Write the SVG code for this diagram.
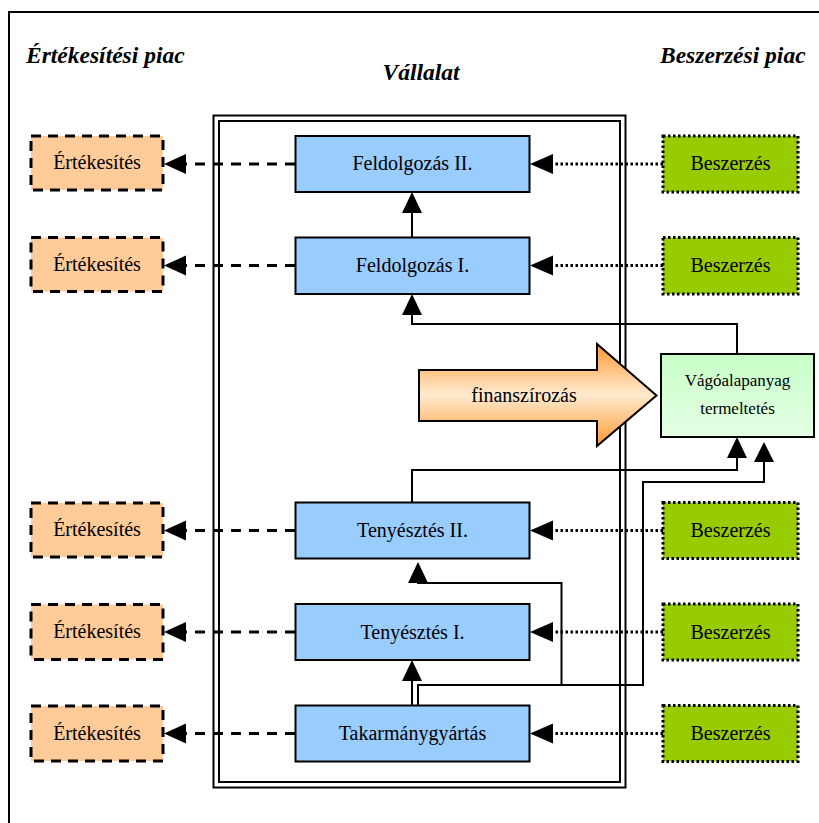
<svg xmlns="http://www.w3.org/2000/svg" width="819" height="823" viewBox="0 0 819 823">
<defs>
<linearGradient id="gFin" x1="0" y1="0" x2="0" y2="1">
<stop offset="0" stop-color="#ff9933"/>
<stop offset="0.5" stop-color="#ffebd0"/>
<stop offset="1" stop-color="#ff9933"/>
</linearGradient>
<linearGradient id="gVago" x1="0" y1="0" x2="0" y2="1">
<stop offset="0" stop-color="#c8ffc8"/>
<stop offset="1" stop-color="#e4ffe4"/>
</linearGradient>
</defs>
<style>
text{font-family:'Liberation Serif','Times New Roman',serif;fill:#000}
.title{font-weight:bold;font-style:italic;font-size:23.5px}
.lbl{font-size:20px;text-anchor:middle}
.small{font-size:17px}
.blue{fill:#99ccff;stroke:#000;stroke-width:2}
.orange{fill:#ffcc99;stroke:#000;stroke-width:3;stroke-dasharray:10 7}
.green{fill:#99cc00;stroke:#000;stroke-width:3;stroke-dasharray:2.5 2.5}
.dash{fill:none;stroke:#000;stroke-width:3;stroke-dasharray:10 8}
.dot{fill:none;stroke:#000;stroke-width:3;stroke-dasharray:2.5 2.5}
.ln{fill:none;stroke:#000;stroke-width:2}
.ah{fill:#000;stroke:none}
</style>
<rect x="0" y="0" width="819" height="823" fill="#fff"/>
<path d="M9,823 V12 H819" fill="none" stroke="#000" stroke-width="2"/>
<g id="titles">
<text class="title" x="26" y="63">Értékesítési piac</text>
<text class="title" x="421" y="80" text-anchor="middle">Vállalat</text>
<text class="title" x="660" y="63">Beszerzési piac</text>
</g>
<g id="vallalat-frame">
<rect x="213.5" y="115.5" width="412" height="672" fill="none" stroke="#000" stroke-width="2"/>
<rect x="219" y="121" width="401" height="661" fill="none" stroke="#000" stroke-width="2"/>
</g>
<g id="connectors">
<path class="dash" d="M295,164 H186"/>
<polygon class="ah" points="164,164 186,154 186,174"/>
<path class="dash" d="M295,265.5 H186"/>
<polygon class="ah" points="164,265.5 186,255.5 186,275.5"/>
<path class="dash" d="M295,530.5 H186"/>
<polygon class="ah" points="164,530.5 186,520.5 186,540.5"/>
<path class="dash" d="M295,632 H186"/>
<polygon class="ah" points="164,632 186,622 186,642"/>
<path class="dash" d="M295,733.5 H186"/>
<polygon class="ah" points="164,733.5 186,723.5 186,743.5"/>
<path class="dot" d="M663,164 H553"/>
<polygon class="ah" points="530,164 553,154 553,174"/>
<path class="dot" d="M663,265.5 H553"/>
<polygon class="ah" points="530,265.5 553,255.5 553,275.5"/>
<path class="dot" d="M663,530.5 H553"/>
<polygon class="ah" points="530,530.5 553,520.5 553,540.5"/>
<path class="dot" d="M663,632 H553"/>
<polygon class="ah" points="530,632 553,622 553,642"/>
<path class="dot" d="M663,733.5 H553"/>
<polygon class="ah" points="530,733.5 553,723.5 553,743.5"/>
<path class="ln" d="M412,237.5 V212"/>
<polygon class="ah" points="412,192 402,213 422,213"/>
<path class="ln" d="M737,354 V324 H412 V314"/>
<polygon class="ah" points="412,294 402,315 422,315"/>
<path class="ln" d="M412,502.5 V470 H737 V457"/>
<polygon class="ah" points="737,437 727,458 747,458"/>
<path class="ln" d="M418,705.5 V685 H643 V482 H764 V461"/>
<polygon class="ah" points="764,442 754,462 774,462"/>
<path class="ln" d="M561.5,685 V583 H418 V582"/>
<polygon class="ah" points="418,562 408,583 428,583"/>
<path class="ln" d="M412,705.5 V680"/>
<polygon class="ah" points="412,660 402,681 422,681"/>
</g>
<g id="ert1"><rect class="orange" x="31" y="136" width="132" height="54"/><text class="lbl" x="97" y="169">Értékesítés</text></g>
<g id="ert2"><rect class="orange" x="31" y="237.5" width="132" height="54"/><text class="lbl" x="97" y="270.5">Értékesítés</text></g>
<g id="ert3"><rect class="orange" x="31" y="503" width="132" height="54"/><text class="lbl" x="97" y="536">Értékesítés</text></g>
<g id="ert4"><rect class="orange" x="31" y="604.5" width="132" height="55"/><text class="lbl" x="97" y="638">Értékesítés</text></g>
<g id="ert5"><rect class="orange" x="31" y="706" width="132" height="55"/><text class="lbl" x="97" y="739.5">Értékesítés</text></g>
<g id="feld2"><rect class="blue" x="295.5" y="136" width="234" height="56"/><text class="lbl" x="412.5" y="170">Feldolgozás II.</text></g>
<g id="feld1"><rect class="blue" x="295.5" y="237.5" width="234" height="56.5"/><text class="lbl" x="412.5" y="272">Feldolgozás I.</text></g>
<g id="teny2"><rect class="blue" x="295.5" y="502.5" width="234" height="56"/><text class="lbl" x="412.5" y="537">Tenyésztés II.</text></g>
<g id="teny1"><rect class="blue" x="295.5" y="604" width="234" height="56"/><text class="lbl" x="412.5" y="638.5">Tenyésztés I.</text></g>
<g id="takarmany"><rect class="blue" x="295.5" y="705.5" width="234" height="56"/><text class="lbl" x="412.5" y="740">Takarmánygyártás</text></g>
<g id="besz1"><rect class="green" x="663" y="136" width="135" height="56"/><text class="lbl" x="730.5" y="170">Beszerzés</text></g>
<g id="besz2"><rect class="green" x="663" y="237.5" width="135" height="56.5"/><text class="lbl" x="730.5" y="272">Beszerzés</text></g>
<g id="besz3"><rect class="green" x="663" y="502.5" width="135" height="56"/><text class="lbl" x="730.5" y="537">Beszerzés</text></g>
<g id="besz4"><rect class="green" x="663" y="604" width="135" height="56"/><text class="lbl" x="730.5" y="638.5">Beszerzés</text></g>
<g id="besz5"><rect class="green" x="663" y="705.5" width="135" height="56"/><text class="lbl" x="730.5" y="740">Beszerzés</text></g>
<g id="finanszirozas">
<polygon points="419,370 597,370 597,344 656.5,395.5 597,446 597,421 419,421" fill="url(#gFin)" stroke="#000" stroke-width="2"/>
<text class="lbl" x="524" y="402">finanszírozás</text>
</g>
<g id="vagoalapanyag">
<rect x="661" y="354" width="153" height="83" fill="url(#gVago)" stroke="#000" stroke-width="2"/>
<text class="lbl small" x="737.5" y="386">Vágóalapanyag</text>
<text class="lbl small" x="737.5" y="414">termeltetés</text>
</g>
</svg>
